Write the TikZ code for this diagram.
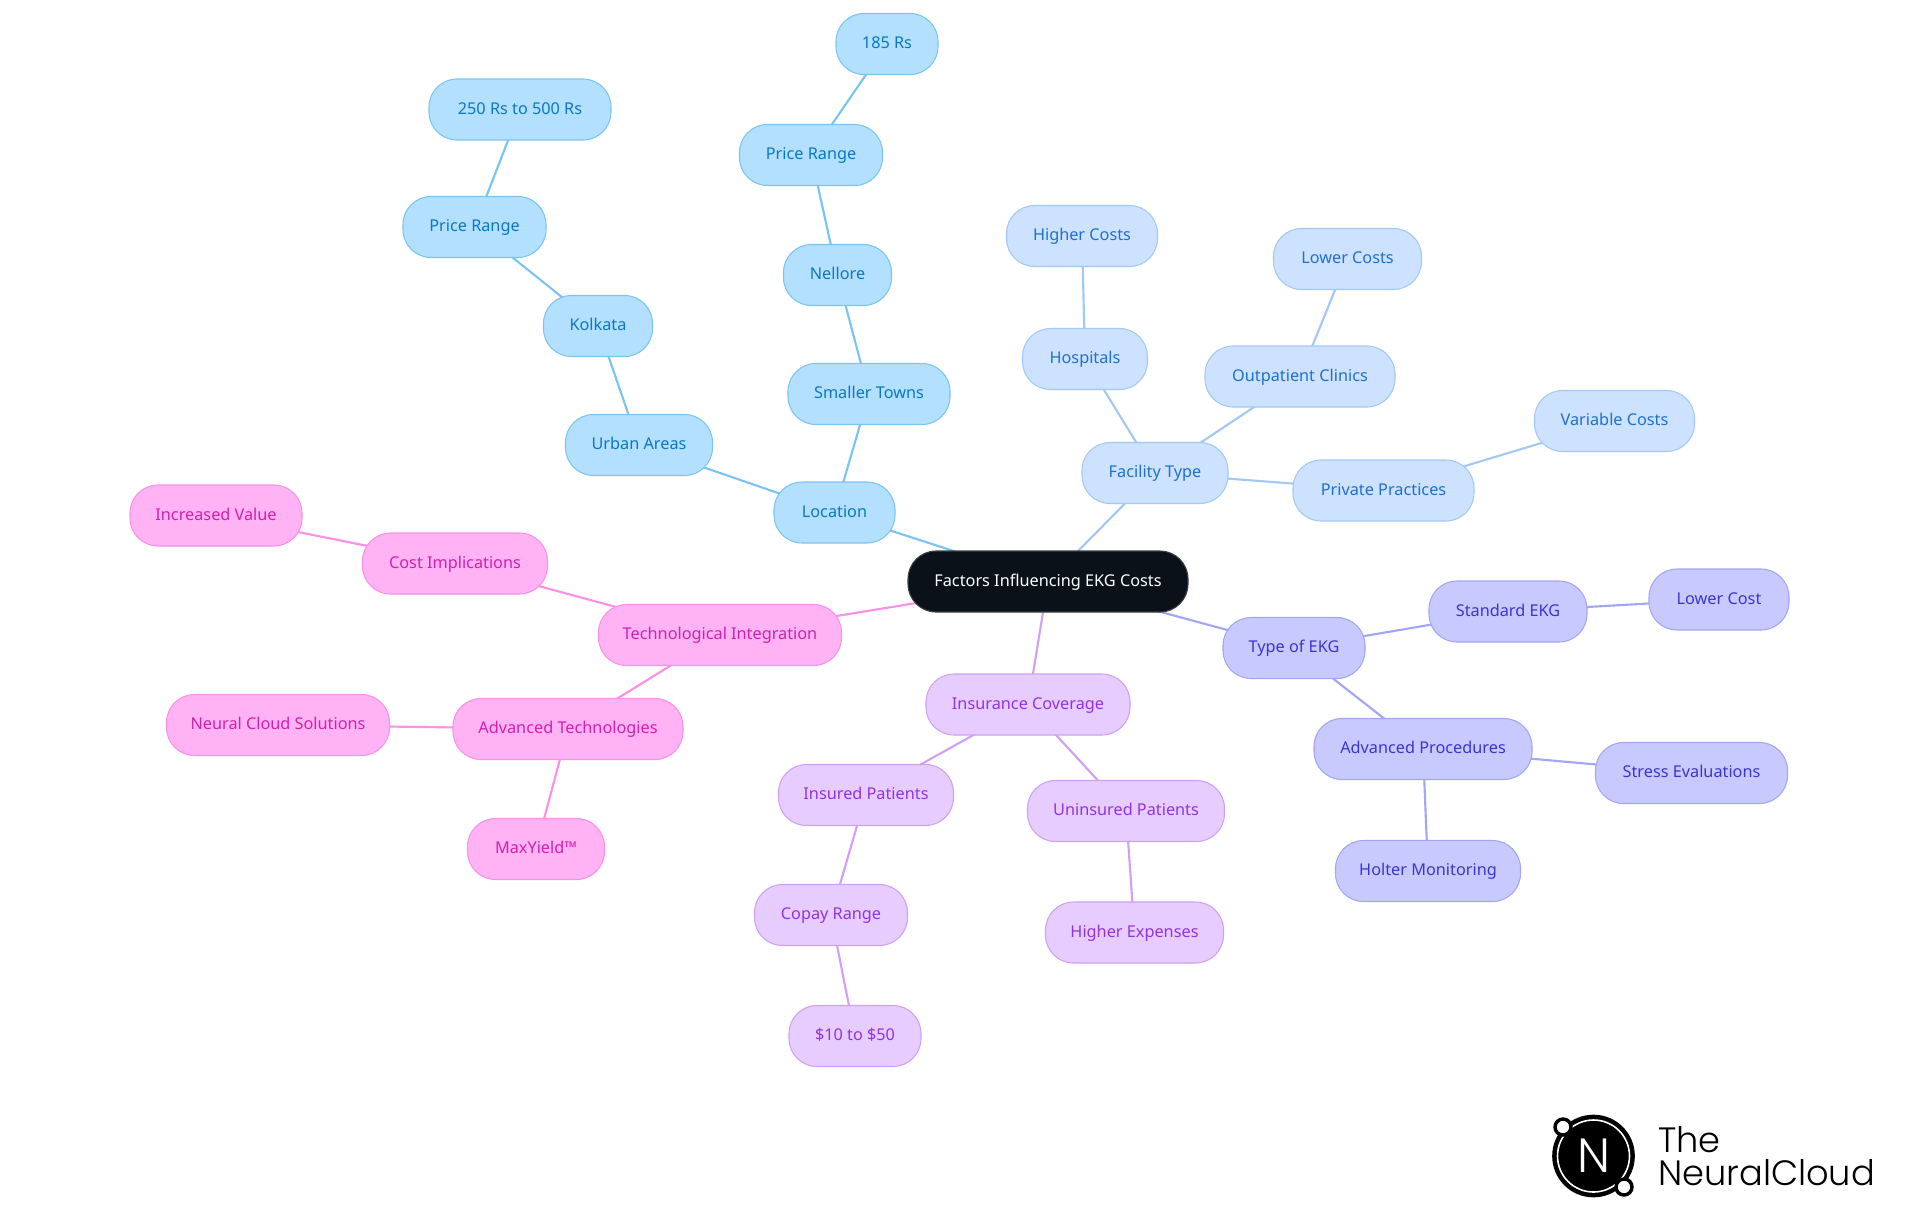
\documentclass[tikz,border=0pt]{standalone}
\usepackage{fontspec}
\setmainfont{Noto Sans}
\newfontfamily\logofont[UprightFont=* Light]{Poppins}
\usetikzlibrary{backgrounds}

\definecolor{rootfill}{HTML}{0B1119}
\definecolor{locfill}{HTML}{B3E0FF}
\definecolor{locline}{HTML}{7CC4F0}
\definecolor{loctext}{HTML}{0B78C2}
\definecolor{facfill}{HTML}{CCE2FF}
\definecolor{facline}{HTML}{A4C8F5}
\definecolor{factext}{HTML}{2070D0}
\definecolor{typefill}{HTML}{C8CAFF}
\definecolor{typeline}{HTML}{A3A5F5}
\definecolor{typetext}{HTML}{3B35D0}
\definecolor{insfill}{HTML}{E6CCFF}
\definecolor{insline}{HTML}{CFA0F5}
\definecolor{instext}{HTML}{9333E0}
\definecolor{techfill}{HTML}{FFB3F5}
\definecolor{techline}{HTML}{FA90E8}
\definecolor{techtext}{HTML}{D020B0}

\tikzset{
  mapbox/.style={draw, rounded corners=21pt, minimum height=45.75pt, inner sep=0pt, line width=0.8pt, text height=7.6pt, text depth=0.6pt, font=\fontsize{12.2}{14}\selectfont, minimum width=#1*0.75pt},
  rootbox/.style={mapbox=#1, draw=rootfill!80!white, fill=rootfill, text=white},
  locbox/.style={mapbox=#1, draw=locline, fill=locfill, text=loctext},
  facbox/.style={mapbox=#1, draw=facline, fill=facfill, text=factext},
  typebox/.style={mapbox=#1, draw=typeline, fill=typefill, text=typetext},
  insbox/.style={mapbox=#1, draw=insline, fill=insfill, text=instext},
  techbox/.style={mapbox=#1, draw=techline, fill=techfill, text=techtext},
  maplink/.style={line width=1.6pt}
}

\begin{document}
\begin{tikzpicture}[x=0.75pt,y=-0.75pt]
\useasboundingbox (0,0) rectangle (1920,1215);

\node[rootbox=280] (root) at (1048,581.5) {Factors Influencing EKG Costs};

\node[locbox=121] (location) at (834.5,512.5) {Location};
\node[locbox=147] (urban) at (639,445) {Urban Areas};
\node[locbox=109] (kolkata) at (598,326) {Kolkata};
\node[locbox=143] (kolkataprice) at (474.5,227) {Price Range};
\node[locbox=182] (kolkatavalue) at (520,109.5) {250 Rs to 500 Rs};
\node[locbox=162] (towns) at (869,394) {Smaller Towns};
\node[locbox=108] (nellore) at (837.5,275) {Nellore};
\node[locbox=143] (nelloreprice) at (811,155) {Price Range};
\node[locbox=102] (nellorevalue) at (887,44) {185 Rs};

\node[facbox=146] (facility) at (1155,473) {Facility Type};
\node[facbox=125] (hospitals) at (1085,359) {Hospitals};
\node[facbox=151] (highercosts) at (1082,236) {Higher Costs};
\node[facbox=190] (outpatient) at (1300,376.5) {Outpatient Clinics};
\node[facbox=148] (lowercosts) at (1347.5,259) {Lower Costs};
\node[facbox=181] (private) at (1383.5,490.5) {Private Practices};
\node[facbox=160] (variable) at (1614.5,421) {Variable Costs};

\node[typebox=142] (type) at (1294,648) {Type of EKG};
\node[typebox=158] (standard) at (1508,611.5) {Standard EKG};
\node[typebox=140] (lowercost) at (1719,599.5) {Lower Cost};
\node[typebox=218] (advanced) at (1423,749) {Advanced Procedures};
\node[typebox=192] (stress) at (1691.5,773) {Stress Evaluations};
\node[typebox=185] (holter) at (1428,871) {Holter Monitoring};

\node[insbox=204] (insurance) at (1028,704.5) {Insurance Coverage};
\node[insbox=175] (insured) at (866,795) {Insured Patients};
\node[insbox=153] (copay) at (831,915) {Copay Range};
\node[insbox=132] (copayvalue) at (855,1036) {\$10 to \$50};
\node[insbox=197] (uninsured) at (1126,811) {Uninsured Patients};
\node[insbox=178] (expenses) at (1134.5,932.5) {Higher Expenses};

\node[techbox=243] (tech) at (720,635) {Technological Integration};
\node[techbox=185] (implications) at (455,563.5) {Cost Implications};
\node[techbox=172] (value) at (216,515.5) {Increased Value};
\node[techbox=230] (advtech) at (568,729) {Advanced Technologies};
\node[techbox=223] (solutions) at (278,725) {Neural Cloud Solutions};
\node[techbox=137] (maxyield) at (536,849) {MaxYield™};

\begin{scope}[on background layer]
\draw[maplink,locline] (root.center)--(location.center);
\draw[maplink,locline] (location.center)--(urban.center);
\draw[maplink,locline] (urban.center)--(kolkata.center);
\draw[maplink,locline] (kolkata.center)--(kolkataprice.center);
\draw[maplink,locline] (kolkataprice.center)--(kolkatavalue.center);
\draw[maplink,locline] (location.center)--(towns.center);
\draw[maplink,locline] (towns.center)--(nellore.center);
\draw[maplink,locline] (nellore.center)--(nelloreprice.center);
\draw[maplink,locline] (nelloreprice.center)--(nellorevalue.center);
\draw[maplink,facline] (root.center)--(facility.center);
\draw[maplink,facline] (facility.center)--(hospitals.center);
\draw[maplink,facline] (hospitals.center)--(highercosts.center);
\draw[maplink,facline] (facility.center)--(outpatient.center);
\draw[maplink,facline] (outpatient.center)--(lowercosts.center);
\draw[maplink,facline] (facility.center)--(private.center);
\draw[maplink,facline] (private.center)--(variable.center);
\draw[maplink,typeline] (root.center)--(type.center);
\draw[maplink,typeline] (type.center)--(standard.center);
\draw[maplink,typeline] (standard.center)--(lowercost.center);
\draw[maplink,typeline] (type.center)--(advanced.center);
\draw[maplink,typeline] (advanced.center)--(stress.center);
\draw[maplink,typeline] (advanced.center)--(holter.center);
\draw[maplink,insline] (root.center)--(insurance.center);
\draw[maplink,insline] (insurance.center)--(insured.center);
\draw[maplink,insline] (insured.center)--(copay.center);
\draw[maplink,insline] (copay.center)--(copayvalue.center);
\draw[maplink,insline] (insurance.center)--(uninsured.center);
\draw[maplink,insline] (uninsured.center)--(expenses.center);
\draw[maplink,techline] (root.center)--(tech.center);
\draw[maplink,techline] (tech.center)--(implications.center);
\draw[maplink,techline] (implications.center)--(value.center);
\draw[maplink,techline] (tech.center)--(advtech.center);
\draw[maplink,techline] (advtech.center)--(solutions.center);
\draw[maplink,techline] (advtech.center)--(maxyield.center);
\end{scope}

\fill[black] (1593.5,1156) circle[radius=31pt];
\draw[white,line width=1.2pt] (1593.5,1156) circle[radius=27pt];
\draw[black,fill=white,line width=2.6pt] (1563,1127) circle[radius=6pt];
\draw[black,fill=white,line width=2.6pt] (1624,1187) circle[radius=6pt];
\node[text=white, inner sep=0pt, font=\logofont\fontsize{36}{36}\selectfont] (logoletter) at (1593.5,1156) {N};
\node[anchor=base west, inner sep=0pt, font=\logofont\fontsize{26.4}{26.4}\selectfont] (logothe) at (1658,1152) {The};
\node[anchor=base west, inner sep=0pt, font=\logofont\fontsize{26.4}{26.4}\selectfont] (logoname) at (1658,1185) {NeuralCloud};
\end{tikzpicture}
\end{document}
